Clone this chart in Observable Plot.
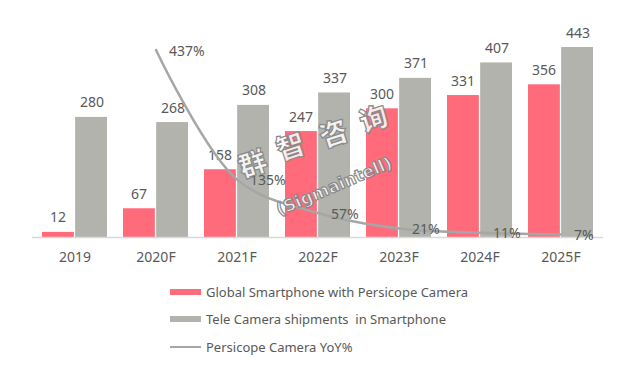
<!DOCTYPE html>
<html>
<head>
<meta charset="utf-8">
<script src="https://cdn.jsdelivr.net/npm/d3@7"></script>
<script src="https://cdn.jsdelivr.net/npm/@observablehq/plot@0.6"></script>
<style>
  html, body { margin: 0; padding: 0; background: #fff; }
  body { width: 644px; height: 372px; position: relative; overflow: hidden; font-family: "Noto Sans", sans-serif; }
  #legend { padding-top: 3px; margin-left: 170px; color: #595959; font-size: 13px; }
  .row { display: flex; align-items: center; height: 27.5px; }
  .sw { width: 31px; margin-right: 5px; }
  .wm { position: absolute; pointer-events: none; color: rgba(255,255,255,0.85); -webkit-text-stroke: 1.2px #8a8a8a;
        font-family: "Noto Sans CJK SC", sans-serif; font-weight: 900; white-space: nowrap; transform-origin: center center; }
</style>
</head>
<body>
<div id="chart"></div>
<div id="legend"></div>
<div id="watermark"></div>
<script>
const years = ["2019", "2020F", "2021F", "2022F", "2023F", "2024F", "2025F"];
const periscope = [12, 67, 158, 247, 300, 331, 356];
const tele = [280, 268, 308, 337, 371, 407, 443];
const yoyYears = ["2020F", "2021F", "2022F", "2023F", "2024F", "2025F"];
const yoy = [437, 135, 57, 21, 11, 7];
const seriesNames = ["Global Smartphone with Persicope Camera", "Tele Camera shipments  in Smartphone", "Persicope Camera YoY%"];
const watermarkChars = ["群", "智", "咨", "询"];
const watermarkLatin = "(Sigmaintell)";

const pink = "#FF6B7A";
const grey = "#B1B3AC";
const lineGrey = "#A6A6A6";
const textCol = "#595959";

const pinkData = years.map((y, i) => ({year: y, value: periscope[i]}));
const teleData = years.map((y, i) => ({year: y, value: tele[i]}));
const yoyData = yoyYears.map((y, i) => ({year: y, value: yoy[i]}));

const x0 = 40, x1 = 595, pad = 0.2;
const step = (x1 - x0) / (years.length - pad);
const half = step * (1 - pad) / 2 + 0.5;

const chart = Plot.plot({
  width: 644,
  height: 275,
  marginLeft: 32,
  marginRight: 41,
  marginTop: 44,
  marginBottom: 38,
  style: {fontFamily: "Noto Sans, sans-serif", fontSize: "14px", color: textCol, background: "transparent"},
  x: {domain: years, range: [x0, x1], paddingInner: pad, paddingOuter: 0, axis: null},
  y: {domain: [0, 450], axis: null},
  marks: [
    Plot.barY(pinkData, {x: "year", y: "value", fill: pink, insetRight: half}),
    Plot.barY(teleData, {x: "year", y: "value", fill: grey, insetLeft: half}),
    Plot.ruleY([0], {stroke: "#D9D9D9", strokeWidth: 1.5}),
    Plot.text(pinkData, {x: "year", y: "value", text: d => String(d.value), dx: -half / 2 - 0.5, dy: -10, lineAnchor: "bottom", fill: textCol, fontSize: 14}),
    Plot.text(teleData, {x: "year", y: "value", text: d => String(d.value), dx: half / 2 + 0.5, dy: -10, lineAnchor: "bottom", fill: textCol, fontSize: 14}),
    Plot.line(yoyData, {x: "year", y: "value", stroke: lineGrey, strokeWidth: 2.5, curve: "catmull-rom"}),
    Plot.text(yoyData, {x: "year", y: "value", text: d => d.value + "%", textAnchor: "start", dx: 13, dy: 1, fill: textCol, fontSize: 14}),
    Plot.axisX({tickSize: 0, tickPadding: 15, fontSize: 14, color: textCol, label: null})
  ]
});
document.getElementById("chart").appendChild(chart);

const legend = document.getElementById("legend");
const swatches = [
  `<div class="sw" style="height:6px;background:${pink}"></div>`,
  `<div class="sw" style="height:6px;background:${grey}"></div>`,
  `<div class="sw" style="height:2.5px;background:${lineGrey}"></div>`
];
seriesNames.forEach((name, i) => {
  const row = document.createElement("div");
  row.className = "row";
  row.innerHTML = swatches[i] + `<span style="white-space:pre">${name}</span>`;
  legend.appendChild(row);
});

// faint outlined watermark, as in the source image
const wm = document.getElementById("watermark");
const charPos = [[252, 162], [290, 145], [333, 132], [373, 117]];
watermarkChars.forEach((c, i) => {
  const s = document.createElement("span");
  s.className = "wm";
  s.textContent = c;
  s.style.fontSize = "28px";
  s.style.lineHeight = "28px";
  s.style.left = (charPos[i][0] - 14) + "px";
  s.style.top = (charPos[i][1] - 14) + "px";
  s.style.transform = "rotate(-18deg)";
  wm.appendChild(s);
});
const lat = document.createElement("span");
lat.className = "wm";
lat.textContent = watermarkLatin;
lat.style.fontFamily = "DejaVu Sans, sans-serif";
lat.style.fontWeight = "bold";
lat.style.fontSize = "17px";
lat.style.lineHeight = "20px";
lat.style.left = "334px";
lat.style.top = "186px";
lat.style.transform = "translate(-50%, -50%) rotate(-23deg)";
wm.appendChild(lat);
</script>
</body>
</html>
